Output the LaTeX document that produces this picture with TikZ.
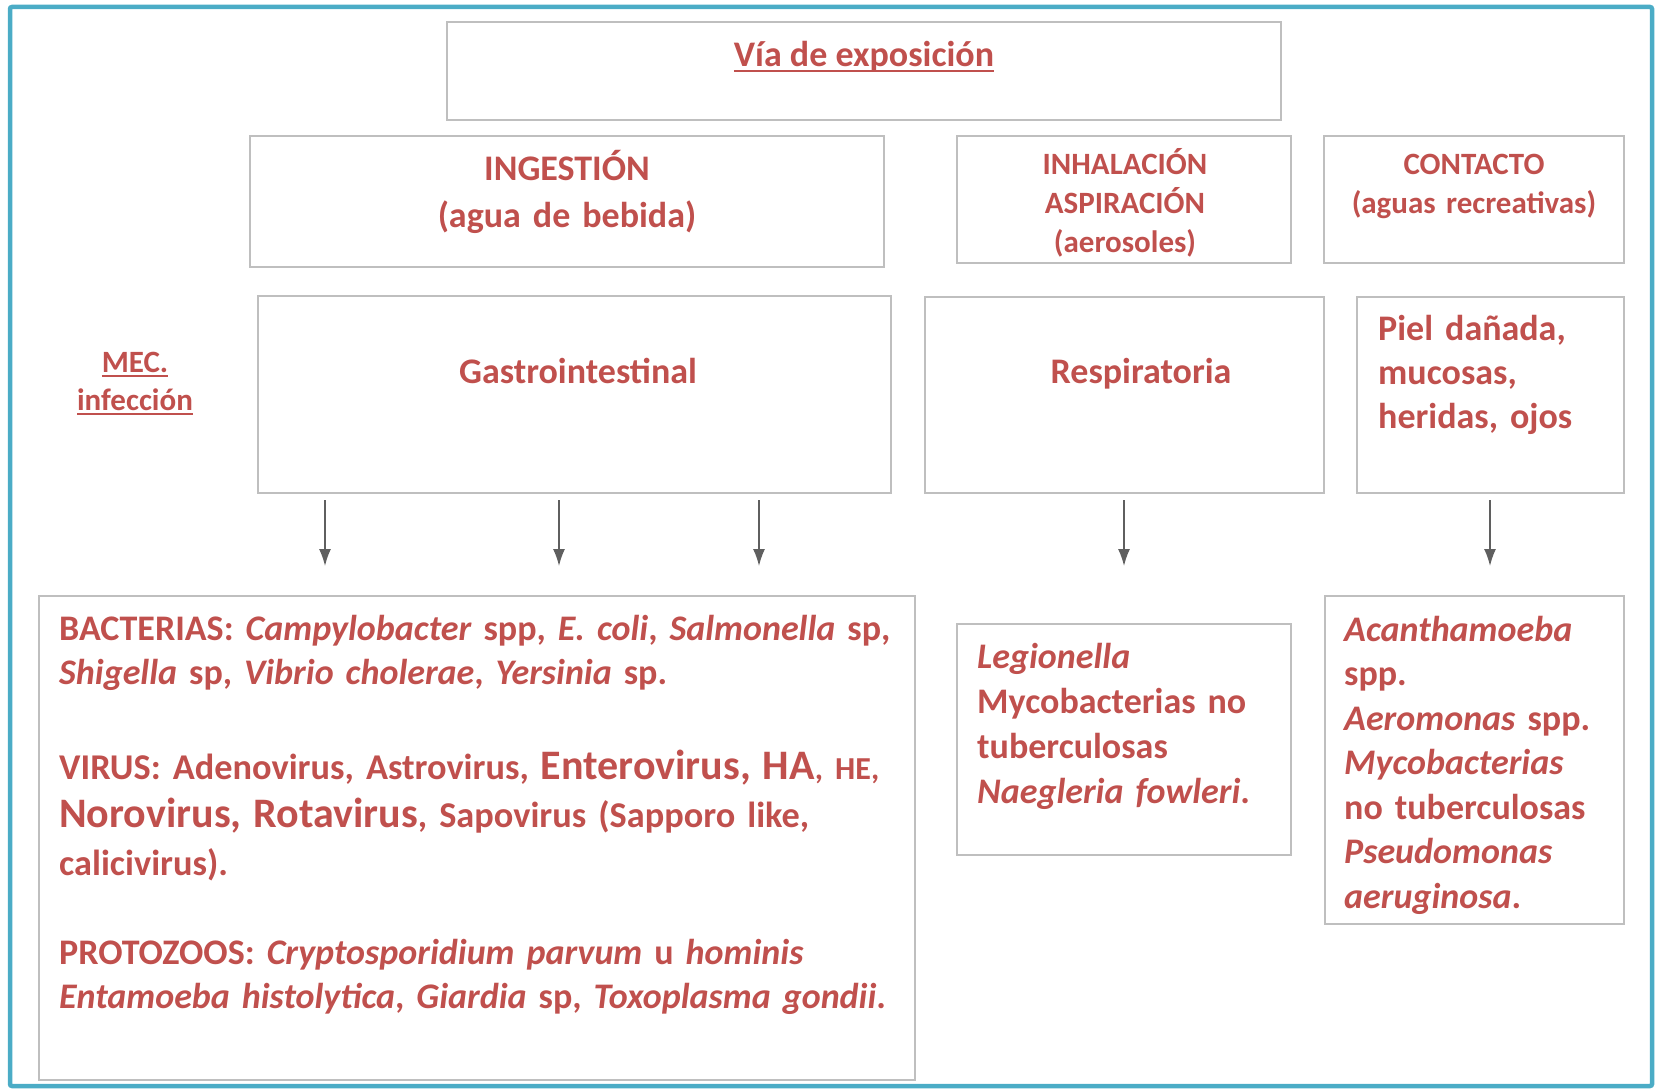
\documentclass[tikz,border=0pt]{standalone}
\usepackage{fontspec}
\setmainfont{Carlito}
\usetikzlibrary{arrows.meta}
\definecolor{redtext}{RGB}{192,80,77}
\definecolor{boxgray}{RGB}{191,191,191}
\definecolor{framecolor}{RGB}{75,172,198}
\definecolor{arrowgray}{RGB}{95,95,95}
% underline a bit below the baseline
\newcommand{\ulbar}[1]{\leavevmode\setbox0\hbox{#1}\rlap{\rule[-5pt]{\wd0}{2pt}}\box0}

\begin{document}
\begin{tikzpicture}[x=1pt, y=-1pt,
  box/.style={draw=boxgray, line width=2pt, inner sep=0pt},
  txt/.style={text=redtext, inner sep=0pt},
  big/.style={font=\bfseries\fontsize{36}{44.5}\selectfont},
  small/.style={font=\bfseries\fontsize{31}{39}\selectfont},
  arr/.style={draw=arrowgray, line width=1.5pt, -{Latex[length=17pt,width=12pt]}}]
  \useasboundingbox (0,0) rectangle (1657,1091);

  % Outer frame
  \draw[framecolor, line width=4.5pt, rounded corners=2pt] (10,7) rectangle (1652,1086);

  % Top row
  \node[box, minimum width=834pt, minimum height=98pt] (via) at (864,71) {};
  \node[txt, big, anchor=base] (viatxt) at (864,67) {\ulbar{Vía de exposición}};

  \node[box, minimum width=634pt, minimum height=131pt] (ingest) at (567,201.5) {};
  \node[txt, big, anchor=base, text width=600pt, align=center] (ingesttxt) at (567,181)
    {INGESTIÓN\\[2.5pt](agua de bebida)};

  \node[box, minimum width=334pt, minimum height=127pt] (inhal) at (1124,199.5) {};
  \node[txt, small, anchor=base, text width=320pt, align=center] (inhaltxt) at (1125,175)
    {INHALACIÓN\\ASPIRACIÓN\\(aerosoles)};

  \node[box, minimum width=300pt, minimum height=127pt] (contact) at (1474,199.5) {};
  \node[txt, small, anchor=base, text width=290pt, align=center] (contacttxt) at (1474,175)
    {CONTACTO\\(aguas recreativas)};

  % Mecanismo de infeccion
  \node[txt, anchor=base, text width=150pt, align=center,
        font=\bfseries\fontsize{31}{38}\selectfont] (mec) at (135,372)
    {\ulbar{MEC.}\\\ulbar{infección}};

  \node[box, minimum width=633pt, minimum height=197pt] (gastro) at (574.5,394.5) {};
  \node[txt, big, anchor=base] (gastrotxt) at (578,383) {Gastrointestinal};

  \node[box, minimum width=399pt, minimum height=196pt] (resp) at (1124.5,395) {};
  \node[txt, big, anchor=base] (resptxt) at (1141,383) {Respiratoria};

  \node[box, minimum width=267pt, minimum height=196pt] (piel) at (1490.5,395) {};
  \node[txt, big, anchor=base west, text width=240pt] (pieltxt) at (1378,340)
    {Piel dañada,\\mucosas,\\heridas, ojos};

  % Arrows
  \foreach \x [count=\i] in {325,559,759,1124,1490} {
    \coordinate (from\i) at (\x,500);
    \coordinate (to\i) at (\x,566);
    \draw[arr] (from\i) -- (to\i);
  }

  % Bottom row
  \node[box, minimum width=876pt, minimum height=484pt] (bact) at (477,838) {};
  \node[txt, big, anchor=base west, text width=860pt] (bacttxt) at (59,640)
    {BACTERIAS: \textit{Campylobacter} spp, \textit{E. coli}, \textit{Salmonella} sp,\\
     \textit{Shigella} sp, \textit{Vibrio cholerae}, \textit{Yersinia} sp.};
  \node[txt, anchor=base west, text width=860pt,
        font=\bfseries\fontsize{36.3}{48}\selectfont] (virustxt) at (59,779)
    {VIRUS: Adenovirus, Astrovirus,
     {\fontsize{42}{48}\selectfont Enterovirus, HA}{\fontsize{32}{48}\selectfont, HE,}\\
     {\fontsize{42}{48}\selectfont Norovirus, Rotavirus}, Sapovirus (Sapporo like,\\
     calicivirus).};
  \node[txt, big, anchor=base west, text width=860pt] (prototxt) at (59,964)
    {PROTOZOOS: \textit{Cryptosporidium parvum} u \textit{hominis}\\
     \textit{Entamoeba histolytica}, \textit{Giardia} sp, \textit{Toxoplasma gondii}.};

  \node[box, minimum width=334pt, minimum height=231pt] (legion) at (1124,739.5) {};
  \node[txt, big, anchor=base west, text width=310pt, font=\bfseries\fontsize{36}{45}\selectfont] (legiontxt) at (977,668)
    {\textit{Legionella}\\Mycobacterias no\\tuberculosas\\\textit{Naegleria fowleri}.};

  \node[box, minimum width=299pt, minimum height=328pt] (acanth) at (1474.5,760) {};
  \node[txt, big, anchor=base west, text width=275pt] (acanthtxt) at (1344,641)
    {\textit{Acanthamoeba}\\spp.\\\textit{Aeromonas} spp.\\\textit{Mycobacterias}\\no tuberculosas\\\textit{Pseudomonas}\\\textit{aeruginosa}.};
\end{tikzpicture}
\end{document}
